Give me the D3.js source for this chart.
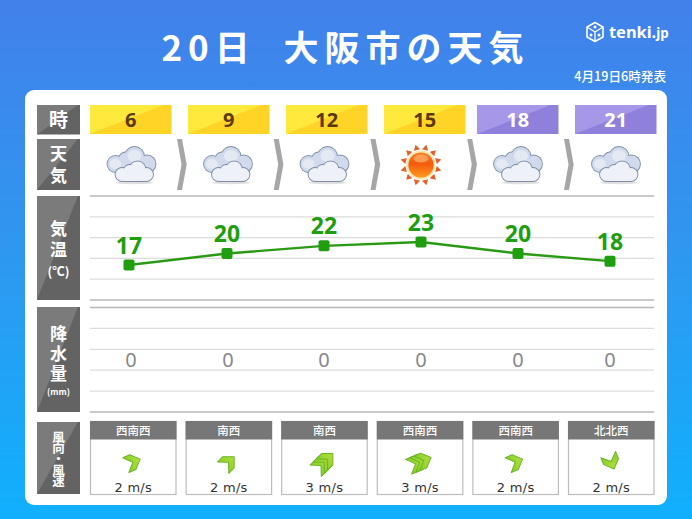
<!DOCTYPE html>
<html lang="ja"><head><meta charset="utf-8">
<script src="https://cdn.jsdelivr.net/npm/d3@7"></script>
<style>html,body{margin:0;padding:0;background:#3f83ea}svg{display:block}text{font-family:"Noto Sans CJK JP","Noto Sans",sans-serif}</style>
</head><body><div id="c"></div>
<script>
const titleText = "20日  大阪市の天気";
const issuedText = "4月19日6時発表";
const hours = [6, 9, 12, 15, 18, 21];
const weather = ["cloud", "cloud", "cloud", "sun", "cloud", "cloud"];
const temps = [17, 20, 22, 23, 20, 18];
const rain = [0, 0, 0, 0, 0, 0];
const windDirs = ["西南西", "南西", "南西", "西南西", "西南西", "北北西"];
const windDegs = [247.5, 225, 225, 247.5, 247.5, 337.5];
const windSpeeds = [2, 2, 3, 3, 2, 2];
const dayHours = [6, 9, 12, 15];

const W = 692, H = 519;
const svg = d3.select("#c").append("svg").attr("width", W).attr("height", H);
const defs = svg.append("defs");
function grad(id, stops, x2, y2) {
  const g = defs.append("linearGradient").attr("id", id).attr("x1", 0).attr("y1", 0).attr("x2", x2).attr("y2", y2);
  stops.forEach(s => g.append("stop").attr("offset", s[0]).attr("stop-color", s[1]));
  return g;
}
grad("bg", [[0, "#4281ea"], [0.5, "#2e98f0"], [1, "#10b0fe"]], 0, 1);
grad("sunDisc", [[0, "#f8801f"], [0.45, "#f4590d"], [1, "#ff9b1e"]], 0, 1);
grad("arrow", [[0, "#b0e03e"], [1, "#86cc2a"]], 0, 1);

// scales
const xPoint = d3.scaleLinear().domain([6, 9, 18, 21]).range([129, 227, 518, 610]);
const xHour = d3.scaleLinear().domain([6, 15, 18, 21]).range([90, 384, 477, 575]);
const hourW = 81.5;
const xIcon = d3.scaleLinear().domain([6, 15, 18, 21]).range([131.5, 421, 518, 616]);
const xSep = d3.scaleLinear().domain([6, 18]).range([177, 564]);
const xPanel = d3.scaleLinear().domain([6, 21]).range([90, 568]);
const panelW = 86.5;
const yTemp = d3.scaleLinear().domain([17, 23]).range([265, 242]);
const gridTemp = d3.scaleLinear().domain([0, 5]).range([300, 196]);
const gridRain = d3.scaleLinear().domain([0, 5]).range([412, 307.5]);

// background & card
svg.append("rect").attr("width", W).attr("height", H).attr("fill", "url(#bg)");
svg.append("rect").attr("x", 25).attr("y", 90).attr("width", 642).attr("height", 415).attr("rx", 9).attr("fill", "#fff");

// title
svg.append("text").attr("x", 345.5).attr("y", 61).attr("text-anchor", "middle")
  .attr("font-size", 35).attr("font-weight", 700).attr("letter-spacing", 6).attr("fill", "#fff")
  .style("white-space", "pre").text(titleText);
svg.append("text").attr("x", 666).attr("y", 81).attr("text-anchor", "end")
  .attr("font-size", 12.6).attr("font-weight", 500).attr("fill", "#fff").text(issuedText);

// logo
const logo = svg.append("g").attr("transform", "translate(595,32)");
logo.append("path").attr("d", "M0,-9.5L8,-5V5L0,9.5L-8,5V-5Z").attr("fill", "none").attr("stroke", "#fff").attr("stroke-width", 1.6).attr("stroke-linejoin", "round");
logo.append("path").attr("d", "M-8,-5L0,0L8,-5M0,0V9.5").attr("fill", "none").attr("stroke", "#fff").attr("stroke-width", 1.3);
logo.append("circle").attr("cx", 0).attr("cy", -5).attr("r", 1.5).attr("fill", "#fff");
logo.append("circle").attr("cx", -4).attr("cy", 3).attr("r", 1.5).attr("fill", "#fff");
logo.append("circle").attr("cx", 4).attr("cy", 3).attr("r", 1.5).attr("fill", "#fff");
svg.append("text").attr("x", 609).attr("y", 38).attr("font-size", 16.4).attr("font-weight", 700).attr("fill", "#fff")
  .style("font-family", "'Noto Sans',sans-serif").text("tenki.").append("tspan").attr("font-size", 13.4).text("jp");

// left labels: v = one vertical run [text, centre y, size, letter spacing], u = unit
const labelBoxes = [
  {y: 105, h: 29.5, v: ["時", 120, 19, 0]},
  {y: 139, h: 51, v: ["天気", 167, 17, 5]},
  {y: 196, h: 104, v: ["気温", 241.5, 17, 4], u: ["(℃)", 271, 12.5]},
  {y: 307, h: 105, v: ["降水量", 355, 17, 3], u: ["(mm)", 392, 8.5]},
  {y: 422, h: 72, v: ["風向・風速", 458.5, 12.5, -1.4]}
];
labelBoxes.forEach(b => {
  const x = 37, w = 43;
  svg.append("rect").attr("x", x).attr("y", b.y).attr("width", w).attr("height", b.h).attr("fill", "#636363");
  svg.append("polygon").attr("points", [[x, b.y], [x + w * 0.95, b.y], [x, b.y + b.h]].join(" ")).attr("fill", "#7b7b7b");
  svg.append("text").attr("x", 58.5).attr("y", b.v[1]).attr("text-anchor", "middle")
    .style("writing-mode", "vertical-rl").attr("font-size", b.v[2]).attr("letter-spacing", b.v[3])
    .attr("font-weight", 700).attr("fill", "#fff").text(b.v[0]);
  if (b.u) svg.append("text").attr("x", 58.5).attr("y", b.u[1]).attr("dy", "0.36em")
    .attr("text-anchor", "middle").attr("font-size", b.u[2]).attr("font-weight", 700).attr("fill", "#fff").text(b.u[0]);
});

// hour cells
hours.forEach(h => {
  const day = dayHours.includes(h);
  const x = xHour(h);
  svg.append("rect").attr("x", x).attr("y", 105).attr("width", hourW).attr("height", 29).attr("fill", day ? "#ffd426" : "#8f80dc");
  svg.append("polygon").attr("points", [[x, 134], [x, 105], [x + hourW * 0.9, 105]].join(" ")).attr("fill", day ? "#ffe93c" : "#a797e8");
  svg.append("text").attr("x", x + hourW / 2).attr("y", 120).attr("dy", "0.36em").attr("text-anchor", "middle")
    .attr("font-size", 20).attr("font-weight", 700).style("font-family", "'Noto Sans',sans-serif")
    .attr("fill", day ? "#5c3a08" : "#fff").text(h);
});

// separators
hours.slice(0, -1).forEach(h => {
  const x = xSep(h);
  svg.append("polygon").attr("points", [[x, 139], [x + 5, 139], [x + 9.7, 164.5], [x + 5, 190], [x, 190], [x + 4.5, 164.5]].join(" ")).attr("fill", "#a6a6a6");
});

// icons
function cloudIcon(g) {
  const back = [[-16, 0, 8], [-6, -5, 6.5], [3, -7.5, 9.5], [15.5, 0, 8.5]];
  const front = [[-9.5, 10.5, 6.5], [-2, 6.5, 5.5], [6, 5.5, 8], [15, 10.5, 6.5]];
  const layer = (lobes, base, fill) => {
    const l = g.append("g");
    lobes.forEach(c => l.append("circle").attr("cx", c[0]).attr("cy", c[1]).attr("r", c[2] + 0.9).attr("fill", "#7f8da3"));
    l.append("rect").attr("x", base[0] - .9).attr("y", base[1] - .9).attr("width", base[2] + 1.8).attr("height", base[3] + 1.8).attr("rx", 3).attr("fill", "#7f8da3");
    lobes.forEach(c => l.append("circle").attr("cx", c[0]).attr("cy", c[1]).attr("r", c[2]).attr("fill", fill));
    l.append("rect").attr("x", base[0]).attr("y", base[1]).attr("width", base[2]).attr("height", base[3]).attr("rx", 3).attr("fill", fill);
  };
  g.append("ellipse").attr("cx", 3).attr("cy", 18.8).attr("rx", 19).attr("ry", 1.5).attr("fill", "#dedede");
  layer(back, [-15, 0, 30, 8.5], "#d0daec");
  g.append("ellipse").attr("cx", 3).attr("cy", -8).attr("rx", 7).attr("ry", 6).attr("fill", "#e8edf6").attr("opacity", .8);
  g.append("ellipse").attr("cx", -16).attr("cy", 0).attr("rx", 6).attr("ry", 5).attr("fill", "#e8edf6").attr("opacity", .8);
  layer(front, [-10, 8, 26, 9], "#eef2f8");
}
function sunIcon(g) {
  d3.range(12).forEach(i => {
    g.append("polygon").attr("points", "-3.2,-15.5 3.2,-15.5 0,-21").attr("fill", "#e4602a")
      .attr("transform", `rotate(${i * 30 + 15})`);
  });
  g.append("circle").attr("r", 14.5).attr("fill", "#fbe4ae");
  g.append("circle").attr("r", 12.6).attr("fill", "url(#sunDisc)");
  g.append("ellipse").attr("cy", -6.5).attr("rx", 7.5).attr("ry", 4).attr("fill", "#fcae68").attr("opacity", 0.75);
}
hours.forEach((h, i) => {
  const g = svg.append("g").attr("transform", `translate(${xIcon(h)},${weather[i] === "sun" ? 165 : 164})`);
  (weather[i] === "sun" ? sunIcon : cloudIcon)(g);
});

// grids
d3.range(0, 6).forEach(i => {
  const strong = i === 0 || i === 5;
  [gridTemp, gridRain].forEach(s => svg.append("line").attr("x1", 90).attr("x2", 654).attr("y1", s(i)).attr("y2", s(i))
    .attr("stroke", strong ? "#b8b8b8" : "#dcdcdc").attr("stroke-width", strong ? 1.6 : 1.3));
});

// temperature
const line = d3.line().x((d, i) => xPoint(hours[i])).y(d => yTemp(d));
svg.append("path").datum(temps).attr("d", line).attr("fill", "none").attr("stroke", "#2a9a14").attr("stroke-width", 2.4);
svg.selectAll(".pt").data(temps).join("rect").attr("class", "pt")
  .attr("x", (d, i) => xPoint(hours[i]) - 5.5).attr("y", d => yTemp(d) - 5.5).attr("width", 11).attr("height", 11).attr("rx", 2).attr("fill", "#1f9e0f");
svg.selectAll(".tl").data(temps).join("text").attr("class", "tl")
  .attr("x", (d, i) => xPoint(hours[i])).attr("y", d => yTemp(d) - 11.5).attr("text-anchor", "middle")
  .attr("font-size", 23).attr("font-weight", 700).style("font-family", "'Noto Sans',sans-serif").attr("fill", "#1f9e0f").text(d => d);

// rain
svg.selectAll(".rl").data(rain).join("text").attr("class", "rl")
  .attr("x", (d, i) => xPoint(hours[i]) + (i < 1 ? 2 : i < 2 ? 1 : 0)).attr("y", 367).attr("text-anchor", "middle")
  .attr("font-size", 20).style("font-family", "'Noto Sans',sans-serif").attr("fill", "#888").text(d => d);

// wind
hours.forEach((h, i) => {
  const x = xPanel(h);
  const g = svg.append("g");
  g.append("rect").attr("x", x + .5).attr("y", 421.5).attr("width", panelW - 1).attr("height", 73).attr("fill", "#fff").attr("stroke", "#bdbdbd").attr("stroke-width", 1.2);
  g.append("rect").attr("x", x).attr("y", 421).attr("width", panelW).attr("height", 18.5).attr("fill", "#777");
  g.append("text").attr("x", x + panelW / 2).attr("y", 430.5).attr("dy", "0.36em").attr("text-anchor", "middle")
    .attr("font-size", 11.5).attr("font-weight", 500).attr("fill", "#fff").text(windDirs[i]);
  g.append("text").attr("x", x + panelW / 2).attr("y", 492).attr("text-anchor", "middle")
    .attr("font-size", 13).attr("letter-spacing", 0.3).style("font-family", "'DejaVu Sans',sans-serif").attr("fill", "#333").text(windSpeeds[i] + " m/s");
  const a = g.append("g").attr("transform", `translate(${x + panelW / 2},462) rotate(${windDegs[i] + 180})`);
  const n = windSpeeds[i] >= 3 ? 3 : 1;
  d3.range(n).forEach(k => {
    a.append("path").attr("d", "M0,-7.5L8,0.5V8L0,0.5L-8,8V0.5Z")
      .attr("transform", `translate(0,${(n - 1) * 2.2 - k * 4.4})`)
      .attr("fill", "url(#arrow)").attr("stroke", "#6cb424").attr("stroke-width", 1).attr("stroke-linejoin", "round");
  });
});
</script></body></html>
